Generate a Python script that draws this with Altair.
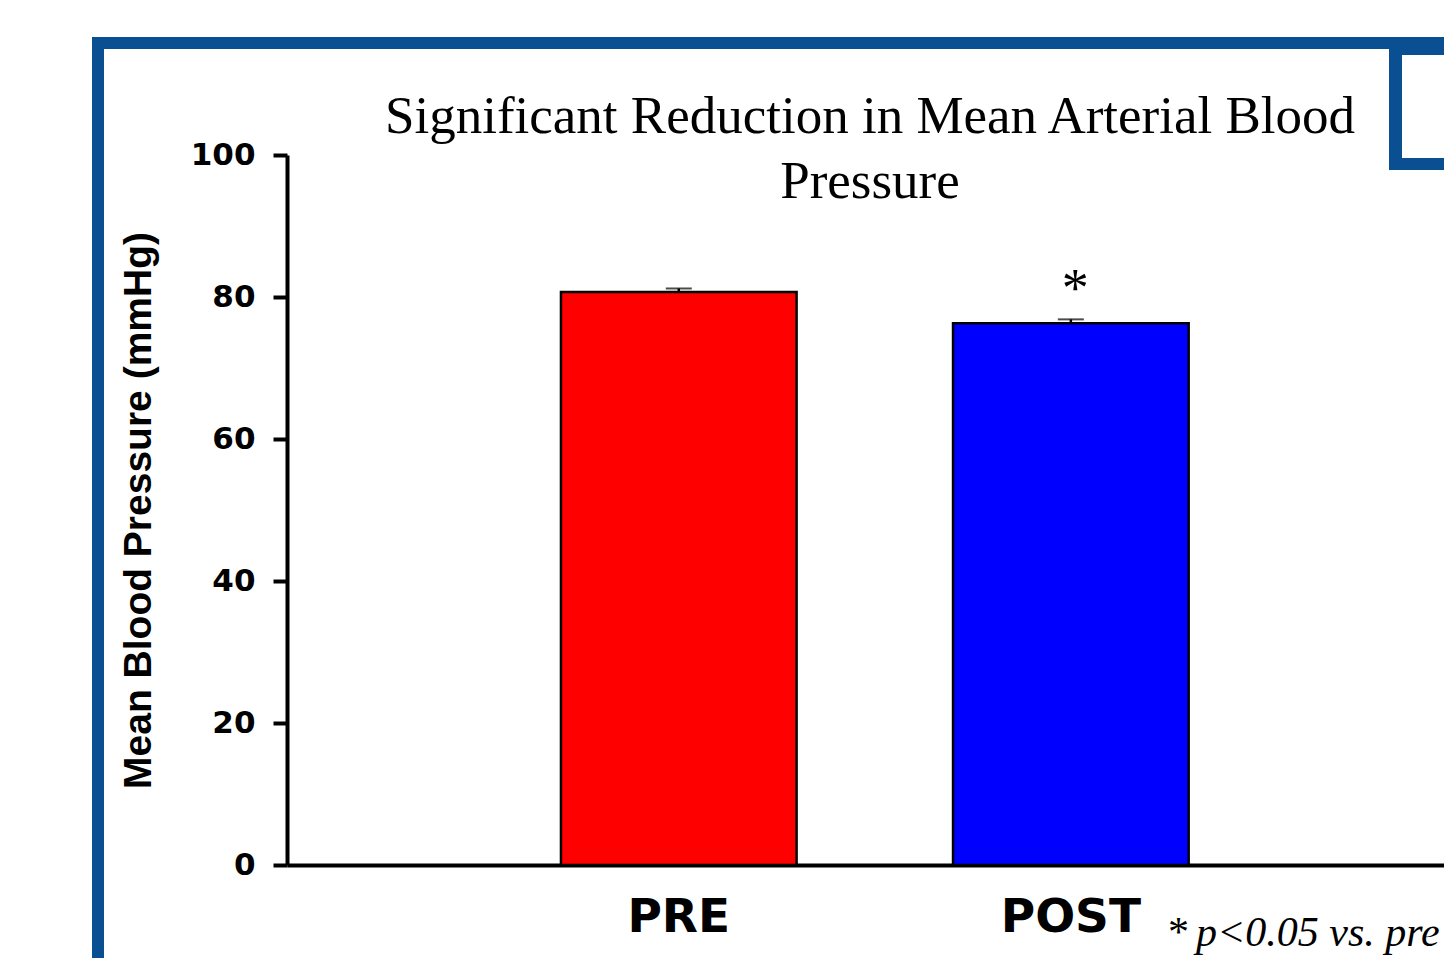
import altair as alt
import pandas as pd

# ---- data ----
phases = ["PRE", "POST"]
means = [80.7, 76.3]
sems = [0.5, 0.55]
sig_marks = ["", "*"]
bar_colors = ["#ff0000", "#0000ff"]
y_ticks = [0, 20, 40, 60, 80, 100]
title_lines = ["Significant Reduction in Mean Arterial Blood", "Pressure"]
y_title = "Mean Blood Pressure (mmHg)"
foot_star = "*"
foot_text = "p<0.05 vs. pre"

FRAME = "#0b4f93"

df = pd.DataFrame({"phase": phases, "mean": means, "sem": sems, "sig": sig_marks})
df["upper"] = df["mean"] + df["sem"]
deco = pd.DataFrame({"k": [0]})

x_enc = alt.X(
    "phase:N",
    sort=phases,
    scale=alt.Scale(paddingInner=0.399, paddingOuter=0.675, align=0.5176),
    axis=alt.Axis(
        title=None, labelAngle=0, ticks=False, grid=False,
        labelFont="DejaVu Sans", labelFontWeight="bold", labelFontSize=47,
        labelColor="black", labelPadding=29,
        domainColor="black", domainWidth=4,
    ),
)
y_enc = alt.Y(
    "mean:Q",
    scale=alt.Scale(domain=[0, 100], nice=False),
    axis=alt.Axis(
        values=y_ticks, grid=False, title=y_title,
        labelFont="DejaVu Sans", labelFontWeight="bold", labelFontSize=31,
        labelColor="black", labelPadding=18,
        tickSize=14, tickWidth=4, tickColor="black",
        domainColor="black", domainWidth=4,
        titleFont="Liberation Sans", titleFontWeight="bold", titleFontSize=39,
        titleColor="black", titleAngle=270, titleX=-137, titleY=355,
        titleAlign="center", titleBaseline="alphabetic",
    ),
)

base = alt.Chart(df)

bars = base.mark_bar(stroke="black", strokeWidth=2.5).encode(
    x=x_enc, y=y_enc,
    color=alt.Color("phase:N", scale=alt.Scale(domain=phases, range=bar_colors), legend=None),
)
stem = base.mark_rule(color="black", strokeWidth=2.5).encode(
    x=alt.X("phase:N", sort=phases), y="mean:Q", y2="upper:Q"
)
cap = base.mark_tick(color="black", thickness=2, size=26, orient="horizontal").encode(
    x=alt.X("phase:N", sort=phases), y="upper:Q"
)
star = base.mark_text(
    font="Liberation Serif", fontSize=54, dx=4.5, dy=-13, baseline="alphabetic", color="black"
).encode(x=alt.X("phase:N", sort=phases), y="upper:Q", text="sig:N")

# ---- slide decorations (frame, title, footnote) ----
d = alt.Chart(deco)
frame_left = d.mark_rect(color=FRAME).encode(
    x=alt.value(-195), x2=alt.value(-183), y=alt.value(-118), y2=alt.value(820))
frame_top = d.mark_rect(color=FRAME).encode(
    x=alt.value(-195), x2=alt.value(1180), y=alt.value(-118), y2=alt.value(-106))
box_left = d.mark_rect(color=FRAME).encode(
    x=alt.value(1102), x2=alt.value(1115), y=alt.value(-118), y2=alt.value(15))
box_top = d.mark_rect(color=FRAME).encode(
    x=alt.value(1102), x2=alt.value(1180), y=alt.value(-118), y2=alt.value(-100))
box_bottom = d.mark_rect(color=FRAME).encode(
    x=alt.value(1102), x2=alt.value(1180), y=alt.value(3), y2=alt.value(15))

title = d.mark_text(
    text=title_lines, font="Liberation Serif", fontSize=53, lineHeight=65,
    align="center", baseline="alphabetic", color="black",
).encode(x=alt.value(583), y=alt.value(-22))

foot1 = d.mark_text(
    text=foot_star, font="Liberation Serif", fontSize=42, align="left",
    baseline="alphabetic", color="black",
).encode(x=alt.value(881), y=alt.value(791))
foot2 = d.mark_text(
    text=foot_text, font="Liberation Serif", fontSize=42, fontStyle="italic",
    align="left", baseline="alphabetic", color="black",
).encode(x=alt.value(909), y=alt.value(791))

chart = alt.layer(
    frame_left, frame_top, box_left, box_top, box_bottom, title,
    bars, stem, cap, star, foot1, foot2,
).properties(
    width=1157, height=710,
    autosize=alt.AutoSizeParams(type="none"),
    padding={"left": 279, "top": 147, "right": 0, "bottom": 93},
    background="white",
).configure_view(strokeWidth=0)

chart.save("out.html", embed_options={"renderer": "svg", "actions": False})
